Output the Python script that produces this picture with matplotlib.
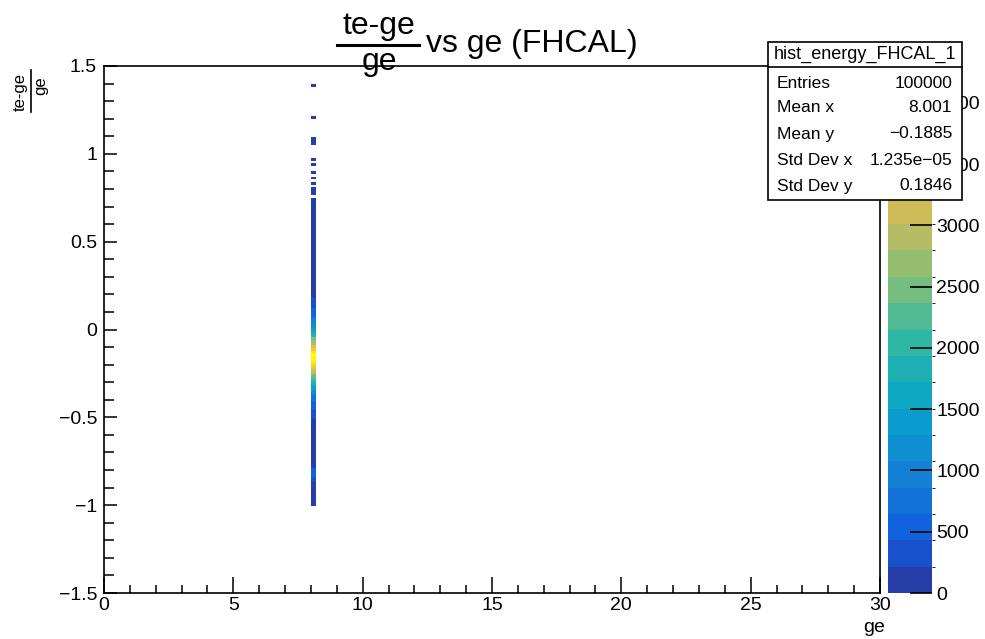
import numpy as np
import matplotlib
matplotlib.use("Agg")
import matplotlib.pyplot as plt
from matplotlib.colors import LinearSegmentedColormap, ListedColormap, BoundaryNorm
from matplotlib.ticker import MultipleLocator
from matplotlib.patches import Rectangle
from matplotlib.lines import Line2D

plt.rcParams['font.family'] = ['Liberation Sans', 'DejaVu Sans']

# binning of hist_energy_FHCAL_1: 150 bins in ge, 200 bins in (te-ge)/ge
x_edges = np.linspace(0, 30, 151)
y_edges = np.linspace(-1.5, 1.5, 201)

# every entry falls in the same ge bin
ge_value = 8.001

# (te-ge)/ge counts, bin by bin, starting at the bin with lower edge -1.005
y_start = -1.005
y_counts = [
    70, 60, 60, 60, 65, 70, 75, 90, 130, 230, 380, 500, 540, 460, 300, 180,
    110, 80, 70, 65, 60, 60, 60, 65, 70, 75, 80, 90, 100, 120, 140, 160,
    185, 220, 260, 310, 370, 440, 520, 610, 720, 840, 980, 1140, 1320, 1520,
    1740, 1980, 2250, 2550, 2850, 3150, 3450, 3750, 4000, 4200,
    4300,
    4150, 3900, 3600, 3300, 3000, 2700, 2400, 2100, 1850, 1620, 1400, 1200,
    1030, 880, 750, 640, 540, 460, 390, 330, 280, 240, 205, 175,
    155, 130, 110, 95, 85, 75, 68, 62, 56, 51, 46, 42, 38, 35, 32, 29, 26,
    24, 22, 20, 18, 16, 14, 13, 12, 11, 10, 9, 8, 7, 6, 5, 5, 4, 3, 3,
]
# isolated entries above the main band
sparse_y = [0.77, 0.785, 0.80, 0.825, 0.855, 0.87, 0.885, 0.935, 0.96,
            1.05, 1.065, 1.08, 1.205, 1.385]
sparse_counts = [2, 1, 1, 1, 2, 1, 1, 1, 1, 2, 1, 1, 1, 1]

hist_name = "hist_energy_FHCAL_1"
stat_names = ["Entries", "Mean x", "Mean y", "Std Dev x", "Std Dev y"]
stat_values = ["100000", "8.001", "\u22120.1885", "1.235e\u221205", "0.1846"]

# fill the 2D histogram
H = np.zeros((len(y_edges) - 1, len(x_edges) - 1))
xi = np.searchsorted(x_edges, ge_value, side='right') - 1
y0 = int(round((y_start - y_edges[0]) / (y_edges[1] - y_edges[0])))
H[y0:y0 + len(y_counts), xi] = y_counts
for yv, c in zip(sparse_y, sparse_counts):
    H[np.searchsorted(y_edges, yv, side='right') - 1, xi] += c
Hm = np.ma.masked_where(H <= 0, H)

# ROOT kBird palette, 20 contour levels
stops = [0.0, 0.125, 0.25, 0.375, 0.5, 0.625, 0.75, 0.875, 1.0]
red = [0.2082, 0.0592, 0.0780, 0.0232, 0.1802, 0.5301, 0.8186, 0.9956, 0.9764]
green = [0.1664, 0.3599, 0.5041, 0.6419, 0.7178, 0.7492, 0.7328, 0.7862, 0.9832]
blue = [0.5293, 0.8684, 0.8385, 0.7914, 0.6425, 0.4662, 0.3499, 0.1968, 0.0539]
bird = LinearSegmentedColormap.from_list(
    "bird", list(zip(stops, zip(red, green, blue))))
ncont = 20
cmap = ListedColormap([bird((i + 0.99) / ncont) for i in range(ncont)])
levels = np.linspace(0, H.max(), ncont + 1)
norm = BoundaryNorm(levels, ncont)

W, Hpx = 985, 639
fig = plt.figure(figsize=(W / 100, Hpx / 100), dpi=100)


def fx(px):
    return px / W


def fy(py):
    return 1 - py / Hpx


ax_l, ax_r, ax_t, ax_b = 104, 880, 66, 593
ax = fig.add_axes([fx(ax_l), fy(ax_b), fx(ax_r - ax_l), (ax_b - ax_t) / Hpx])
mesh = ax.pcolormesh(x_edges, y_edges, Hm, cmap=cmap, norm=norm)
ax.set_xlim(0, 30)
ax.set_ylim(-1.5, 1.5)
ax.xaxis.set_major_locator(MultipleLocator(5))
ax.xaxis.set_minor_locator(MultipleLocator(1))
ax.yaxis.set_major_locator(MultipleLocator(0.5))
ax.yaxis.set_minor_locator(MultipleLocator(0.1))
ax.tick_params(axis='x', which='major', direction='in', length=11.5, width=1.1,
               labelsize=14, pad=3, top=False)
ax.tick_params(axis='x', which='minor', direction='in', length=6, width=1.1, top=False)
ax.tick_params(axis='y', which='major', direction='in', length=9, width=1.1,
               labelsize=14, pad=5, right=False)
ax.tick_params(axis='y', which='minor', direction='in', length=7, width=1.1, right=False)
ax.xaxis.set_major_formatter(matplotlib.ticker.FuncFormatter(lambda v, p: f"{v:g}"))
ax.yaxis.set_major_formatter(matplotlib.ticker.FuncFormatter(
    lambda v, p: f"{v:g}".replace("-", "\u2212")))
for s in ax.spines.values():
    s.set_linewidth(1.2)

# colour scale
cax = fig.add_axes([fx(888), fy(ax_b), fx(44), (ax_b - ax_t) / Hpx])
cb = fig.colorbar(mesh, cax=cax, ticks=np.arange(0, H.max(), 500))
cb.outline.set_visible(False)
cax.tick_params(direction='in', length=16, width=1.2, labelsize=14, pad=3)
cax.yaxis.set_major_formatter(matplotlib.ticker.FuncFormatter(lambda v, p: f"{v:g}"))

# title: (te-ge)/ge vs ge (FHCAL)
fig.text(fx(379), fy(26), "te-ge", ha='center', va='center', fontsize=23)
fig.add_artist(Line2D([fx(337), fx(419)], [fy(45), fy(45)], color='black',
                      lw=2.2, transform=fig.transFigure))
fig.text(fx(379), fy(62), "ge", ha='center', va='center', fontsize=23)
fig.text(fx(426), fy(44), "vs ge (FHCAL)", ha='left', va='center', fontsize=23)

# y axis title as a rotated fraction
fig.text(fx(20), fy(92), "te-ge", ha='center', va='center', fontsize=12, rotation=90)
fig.add_artist(Line2D([fx(31), fx(31)], [fy(70), fy(112)], color='black',
                      lw=1.2, transform=fig.transFigure))
fig.text(fx(41), fy(86), "ge", ha='center', va='center', fontsize=12, rotation=90)

# x axis title
fig.text(fx(885), fy(627), "ge", ha='right', va='center', fontsize=14)

# statistics box, drawn over the top of the colour scale
bx0, bx1, by0, by1 = 768, 962, 42, 200
fig.add_artist(Rectangle((fx(bx0), fy(by1)), fx(bx1 - bx0), (by1 - by0) / Hpx,
                         facecolor='white', edgecolor='black', lw=1.2,
                         transform=fig.transFigure, zorder=10))
fig.add_artist(Line2D([fx(bx0), fx(bx1)], [fy(67), fy(67)], color='black',
                      lw=1.2, transform=fig.transFigure, zorder=11))
fig.text(fx((bx0 + bx1) / 2), fy(54), hist_name, ha='center', va='center',
         fontsize=13, zorder=12)
row_y = [83, 108, 134, 160, 186]
for name, val, ry in zip(stat_names, stat_values, row_y):
    fig.text(fx(777), fy(ry), name, ha='left', va='center', fontsize=12.5, zorder=12)
    fig.text(fx(952), fy(ry), val, ha='right', va='center', fontsize=12.5, zorder=12)

fig.savefig("out.png", dpi=100)
